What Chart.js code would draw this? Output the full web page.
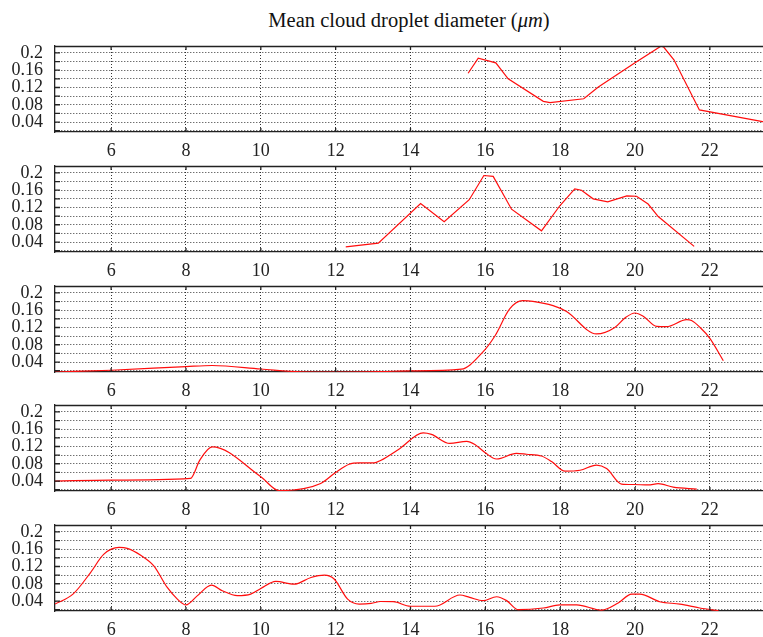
<!DOCTYPE html>
<html>
<head>
<meta charset="utf-8">
<script src="https://cdn.jsdelivr.net/npm/chart.js@4.4.1/dist/chart.umd.min.js"></script>
<style>
  body { margin: 0; background: #fff; width: 763px; height: 637px; position: relative; overflow: hidden; }
  #title { position: absolute; left: 55px; width: 708px; top: 8px; text-align: center;
           font-family: "Liberation Serif", serif; font-size: 20.5px; color: #111; line-height: 24px; }
  .panel { position: absolute; left: 0; width: 763px; height: 122px; }
</style>
</head>
<body>
<div id="title">Mean cloud droplet diameter (<i>μm</i>)</div>
<div class="panel" style="top:38px"><canvas id="c1"></canvas></div>
<div class="panel" style="top:158px"><canvas id="c2"></canvas></div>
<div class="panel" style="top:278px"><canvas id="c3"></canvas></div>
<div class="panel" style="top:397px"><canvas id="c4"></canvas></div>
<div class="panel" style="top:517px"><canvas id="c5"></canvas></div>
<script>
var xMin = 4.5, xMax = 23.42;
var yMin = 0.017, yMax = 0.216;
var xTicks = [6, 8, 10, 12, 14, 16, 18, 20, 22];
var yTicks = [0.02, 0.04, 0.06, 0.08, 0.1, 0.12, 0.14, 0.16, 0.18, 0.2];
var yLabels = ['', '0.04', '', '0.08', '', '0.12', '', '0.16', '', '0.2'];

// panel 1
var p1X = [15.54, 15.81, 16.28, 16.61, 17.55, 17.73, 18.63, 19.02, 20.0, 20.69, 20.76, 21.04, 21.72, 23.41, 23.6];
var p1Y = [0.153, 0.188, 0.177, 0.140, 0.088, 0.085, 0.094, 0.121, 0.177, 0.2155, 0.214, 0.184, 0.068, 0.041, 0.039];
// panel 2
var p2X = [12.27, 13.14, 14.27, 14.9, 15.57, 15.96, 16.21, 16.7, 17.5, 17.99, 18.39, 18.57, 18.88, 19.27, 19.78, 20.04, 20.35, 20.62, 21.58];
var p2Y = [0.029, 0.0375, 0.129, 0.087, 0.138, 0.194, 0.192, 0.116, 0.066, 0.124, 0.163, 0.160, 0.140, 0.133, 0.147, 0.146, 0.128, 0.099, 0.030];
// panel 3
var p3X = [4.5, 6.0, 8.0, 8.7, 10.0, 11.07, 12.0, 13.2, 14.0, 15.36, 15.9, 16.26, 16.65, 17.0, 17.27, 17.81, 18.17, 18.97, 19.46, 19.73, 20.0, 20.22, 20.58, 20.84, 21.38, 21.51, 21.74, 22.0, 22.36];
var p3Y = [0.017, 0.021, 0.0295, 0.032, 0.024, 0.0175, 0.017, 0.018, 0.0195, 0.0235, 0.060, 0.101, 0.163, 0.182, 0.1805, 0.1705, 0.157, 0.105, 0.120, 0.142, 0.1535, 0.146, 0.1225, 0.122, 0.138, 0.136, 0.120, 0.095, 0.043];
// panel 4
var p4X = [4.5, 6.0, 8.12, 8.37, 8.7, 10.0, 10.49, 11.6, 12.0, 12.36, 12.63, 13.03, 13.2, 13.71, 14.34, 14.56, 15.05, 15.5, 15.72, 15.99, 16.3, 16.83, 17.1, 17.5, 17.77, 18.13, 18.53, 18.97, 19.24, 19.64, 19.96, 20.35, 20.62, 21.02, 21.65];
var p4Y = [0.040, 0.042, 0.046, 0.0885, 0.119, 0.050, 0.018, 0.0345, 0.060, 0.079, 0.082, 0.082, 0.0877, 0.115, 0.1515, 0.148, 0.127, 0.132, 0.1245, 0.106, 0.091, 0.104, 0.102, 0.098, 0.085, 0.063, 0.065, 0.077, 0.069, 0.033, 0.032, 0.031, 0.034, 0.026, 0.0215];
// panel 5
var p5X = [4.5, 4.98, 5.45, 5.8, 6.21, 6.43, 6.79, 7.14, 7.5, 7.77, 8.0, 8.3, 8.68, 8.97, 9.37, 9.73, 10.0, 10.4, 10.89, 11.34, 11.7, 11.96, 12.32, 12.63, 12.95, 13.2, 13.54, 14.0, 14.65, 15.32, 15.58, 15.94, 16.3, 16.57, 16.88, 17.55, 17.99, 18.44, 19.11, 19.55, 19.91, 20.13, 20.66, 21.2, 21.73, 22.23];
var p5Y = [0.033, 0.056, 0.106, 0.148, 0.164, 0.162, 0.146, 0.1215, 0.0715, 0.0445, 0.031, 0.052, 0.077, 0.064, 0.0525, 0.056, 0.069, 0.0855, 0.079, 0.0945, 0.100, 0.091, 0.0445, 0.033, 0.0345, 0.039, 0.0385, 0.028, 0.028, 0.054, 0.0485, 0.041, 0.050, 0.041, 0.020, 0.024, 0.031, 0.031, 0.019, 0.0355, 0.056, 0.056, 0.0385, 0.033, 0.024, 0.0178];

Chart.defaults.font.family = 'Liberation Serif';
Chart.defaults.font.size = 18;
Chart.defaults.color = '#222';

// top border and inward tick marks
var frame = {
  id: 'frame',
  afterDraw: function (chart) {
    var ctx = chart.ctx, a = chart.chartArea;
    var xs = chart.scales.x, ys = chart.scales.y;
    ctx.save();
    ctx.strokeStyle = '#222';
    ctx.lineWidth = 1.3;
    ctx.beginPath();
    ctx.moveTo(a.left, a.top + 0.5);
    ctx.lineTo(a.right, a.top + 0.5);
    xTicks.forEach(function (v) {
      var px = xs.getPixelForValue(v);
      ctx.moveTo(px, a.top); ctx.lineTo(px, a.top + 4);
      ctx.moveTo(px, a.bottom); ctx.lineTo(px, a.bottom - 4);
    });
    yTicks.forEach(function (v) {
      var py = ys.getPixelForValue(v);
      ctx.moveTo(a.left, py); ctx.lineTo(a.left + 5, py);
    });
    ctx.stroke();
    ctx.restore();
  }
};

function makeChart(id, xs, ys, smooth) {
  var pts = xs.map(function (x, i) { return { x: x, y: ys[i] }; });
  return new Chart(document.getElementById(id), {
    type: 'line',
    data: {
      datasets: [{
        data: pts,
        borderColor: '#ff0d0d',
        borderWidth: 1.2,
        pointRadius: 0,
        fill: false,
        tension: 0,
        cubicInterpolationMode: smooth ? 'monotone' : 'default'
      }]
    },
    options: {
      responsive: true,
      maintainAspectRatio: false,
      animation: false,
      layout: { padding: { top: 8, left: 0, right: 0, bottom: 0 } },
      plugins: { legend: { display: false }, tooltip: { enabled: false } },
      scales: {
        x: {
          type: 'linear', min: xMin, max: xMax,
          afterBuildTicks: function (s) { s.ticks = xTicks.map(function (v) { return { value: v }; }); },
          afterFit: function (s) { s.height = 28; s.paddingLeft = 0; s.paddingRight = 0; },
          grid: { color: '#333', lineWidth: 1, drawTicks: false },
          border: { display: true, color: '#222', width: 1.3, dash: [1, 2] },
          ticks: { color: '#222', font: { family: 'Liberation Serif', size: 18 }, padding: 8,
                   maxRotation: 0, autoSkip: false,
                   callback: function (v) { return String(v); } }
        },
        y: {
          type: 'linear', min: yMin, max: yMax,
          afterBuildTicks: function (s) { s.ticks = yTicks.map(function (v) { return { value: v }; }); },
          afterFit: function (s) { s.width = 55; s.paddingTop = 0; s.paddingBottom = 0; },
          grid: { color: '#333', lineWidth: 1, drawTicks: false },
          border: { display: true, color: '#222', width: 1.3, dash: [1, 2] },
          ticks: { color: '#222', font: { family: 'Liberation Serif', size: 18 }, padding: 12,
                   autoSkip: false,
                   callback: function (v, i) { return yLabels[i]; } }
        }
      }
    },
    plugins: [frame]
  });
}

makeChart('c1', p1X, p1Y, false);
makeChart('c2', p2X, p2Y, false);
makeChart('c3', p3X, p3Y, true);
makeChart('c4', p4X, p4Y, true);
makeChart('c5', p5X, p5Y, true);
</script>
</body>
</html>
